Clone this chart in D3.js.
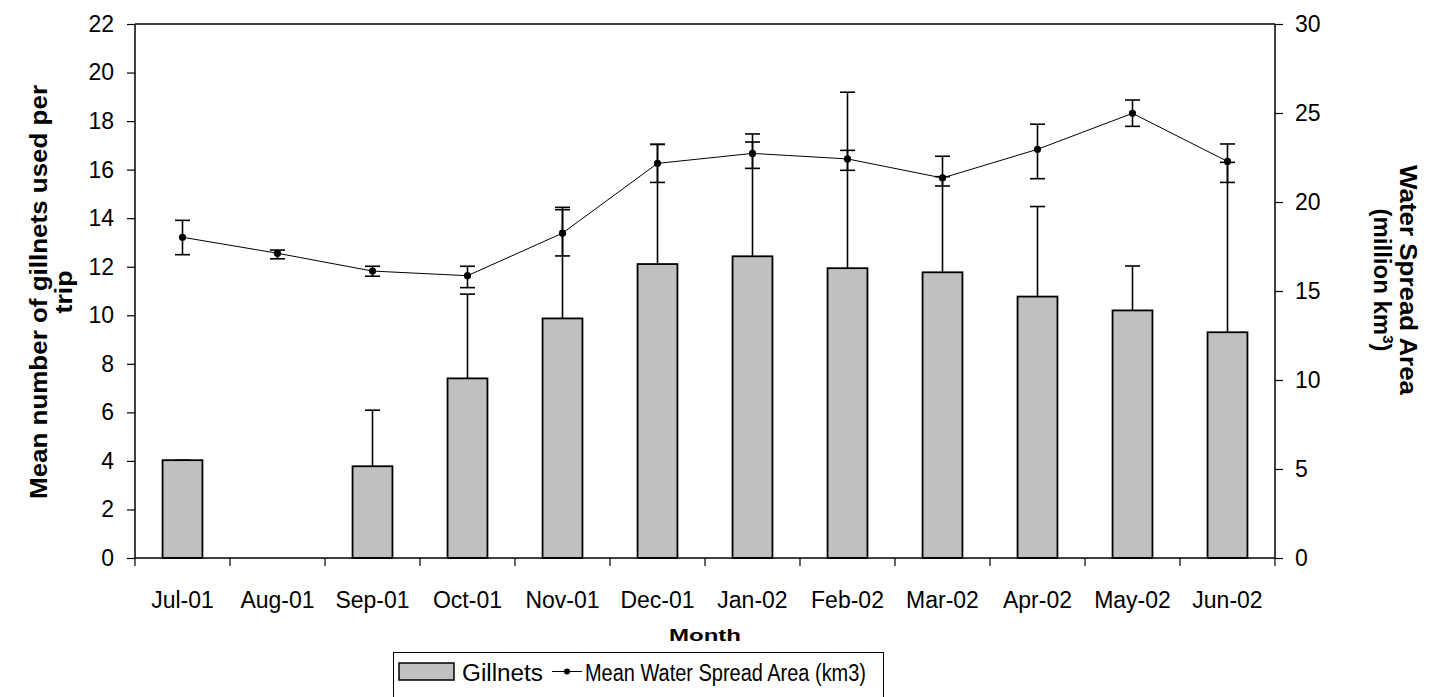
<!DOCTYPE html>
<html>
<head>
<meta charset="utf-8">
<script src="https://cdn.jsdelivr.net/npm/d3@7"></script>
<style>
  body { margin: 0; background: #fff; }
  svg { display: block; font-family: Arial, "Liberation Sans", sans-serif; }
</style>
</head>
<body>
<svg id="chart" width="1435" height="697"></svg>
<script>
// months on the x axis
const months = ['Jul-01', 'Aug-01', 'Sep-01', 'Oct-01', 'Nov-01', 'Dec-01',
                'Jan-02', 'Feb-02', 'Mar-02', 'Apr-02', 'May-02', 'Jun-02'];

// gillnets per trip (bars) and the plus error
const gillnets    = [4.03, null, 3.78, 7.40, 9.87, 12.11, 12.43, 11.94, 11.77, 10.77, 10.20, 9.30];
const gillnetsErr = [0.00, null, 2.31, 3.47, 4.48, 4.93, 5.04, 7.25, 3.94, 3.71, 1.83, 7.00];

// mean water spread area (line) with its error ends
const water     = [18.02, 17.12, 16.12, 15.86, 18.25, 22.17, 22.73, 22.42, 21.35, 22.96, 24.98, 22.28];
const waterHigh = [18.97, 17.30, 16.39, 16.39, 19.70, 23.24, 23.37, 22.90, 22.57, 24.37, 25.73, 23.26];
const waterLow  = [17.04, 16.81, 15.83, 15.19, 16.97, 21.10, 21.89, 21.78, 20.90, 21.31, 24.25, 21.10];

const leftTicks = d3.range(0, 23, 2);
const rightTicks = d3.range(0, 31, 5);

const GRAY = '#c0c0c0';

function drawChart() {
    const svg = d3.select('#chart');
    const margin = {left: 135, right: 160, top: 24, bottom: 139};
    const W = 1435, H = 697;
    const x0 = margin.left, x1 = W - margin.right;
    const y0 = H - margin.bottom, y1 = margin.top;

    const x = d3.scaleBand().domain(months).range([x0, x1]).padding(0);
    const yL = d3.scaleLinear().domain([0, 22]).range([y0, y1]);
    const yR = d3.scaleLinear().domain([0, 30]).range([y0, y1]);
    const barW = x.bandwidth() * 0.42;
    const cx = m => x(m) + x.bandwidth() / 2;
    const capW = 7.5;

    // top border of the plot area
    svg.append('line')
        .attr('x1', x0).attr('x2', x1).attr('y1', y1).attr('y2', y1)
        .attr('stroke', '#000').attr('stroke-width', 1.5);

    // bars
    const rows = months.map((m, i) => ({m, v: gillnets[i], e: gillnetsErr[i]}))
        .filter(d => d.v != null);

    svg.append('g').selectAll('rect')
        .data(rows)
        .join('rect')
        .attr('x', d => cx(d.m) - barW / 2)
        .attr('y', d => yL(d.v))
        .attr('width', barW)
        .attr('height', d => yL(0) - yL(d.v))
        .attr('fill', GRAY)
        .attr('stroke', '#000')
        .attr('stroke-width', 1.8);

    // bar error bars (plus only)
    const be = svg.append('g').attr('stroke', '#000').attr('stroke-width', 1.6);
    rows.forEach(d => {
        const top = yL(d.v + d.e);
        be.append('line').attr('x1', cx(d.m)).attr('x2', cx(d.m))
            .attr('y1', yL(d.v)).attr('y2', top);
        be.append('line').attr('x1', cx(d.m) - capW).attr('x2', cx(d.m) + capW)
            .attr('y1', top).attr('y2', top);
    });

    // water spread line
    const pts = months.map((m, i) => ({m, v: water[i], hi: waterHigh[i], lo: waterLow[i]}));
    svg.append('path')
        .datum(pts)
        .attr('fill', 'none')
        .attr('stroke', '#000')
        .attr('stroke-width', 1)
        .attr('d', d3.line().x(d => cx(d.m)).y(d => yR(d.v)));

    const le = svg.append('g').attr('stroke', '#000').attr('stroke-width', 1.6);
    pts.forEach(d => {
        le.append('line').attr('x1', cx(d.m)).attr('x2', cx(d.m))
            .attr('y1', yR(d.hi)).attr('y2', yR(d.lo));
        [d.hi, d.lo].forEach(v => {
            le.append('line').attr('x1', cx(d.m) - capW).attr('x2', cx(d.m) + capW)
                .attr('y1', yR(v)).attr('y2', yR(v));
        });
    });

    svg.append('g').selectAll('circle')
        .data(pts)
        .join('circle')
        .attr('cx', d => cx(d.m))
        .attr('cy', d => yR(d.v))
        .attr('r', 3.6)
        .attr('fill', '#000');

    // left axis
    const axL = svg.append('g')
        .attr('transform', `translate(${x0},0)`)
        .call(d3.axisLeft(yL).tickValues(leftTicks).tickSize(8).tickPadding(13));
    // right axis
    const axR = svg.append('g')
        .attr('transform', `translate(${x1},0)`)
        .call(d3.axisRight(yR).tickValues(rightTicks).tickSize(8).tickPadding(12));
    [axL, axR].forEach(a => {
        a.select('.domain').attr('stroke-width', 1.5).attr('d',
            `M0,${y0}V${y1}`);
        a.selectAll('.tick line').attr('stroke-width', 1.2);
        a.selectAll('text').attr('font-size', 23).attr('font-family', 'Arial, "Liberation Sans", sans-serif').attr('fill', '#000');
    });

    // bottom axis: ticks on the band edges, labels in the middle
    const edges = months.map(m => x(m)).concat([x1]);
    const ax = svg.append('g');
    ax.append('line').attr('x1', x0).attr('x2', x1).attr('y1', y0).attr('y2', y0)
        .attr('stroke', '#000').attr('stroke-width', 1.5);
    ax.selectAll('line.tk')
        .data(edges)
        .join('line')
        .attr('class', 'tk')
        .attr('x1', d => d).attr('x2', d => d)
        .attr('y1', y0).attr('y2', y0 + 8)
        .attr('stroke', '#000').attr('stroke-width', 1.2);
    ax.selectAll('text')
        .data(months)
        .join('text')
        .attr('x', d => cx(d))
        .attr('y', y0 + 50)
        .attr('text-anchor', 'middle')
        .attr('font-size', 23)
        .text(d => d);

    // axis titles
    const lt = svg.append('text')
        .attr('transform', `translate(47,292) rotate(-90)`)
        .attr('text-anchor', 'middle')
        .attr('font-size', 24).attr('font-weight', 'bold');
    lt.append('tspan').attr('x', 0).attr('dy', 0)
        .attr('textLength', 414).attr('lengthAdjust', 'spacingAndGlyphs')
        .text('Mean number of gillnets used per');
    lt.append('tspan').attr('x', 0).attr('dy', 25)
        .attr('textLength', 43).attr('lengthAdjust', 'spacingAndGlyphs')
        .text('trip');

    const rt = svg.append('text')
        .attr('transform', `translate(1400,280) rotate(90)`)
        .attr('text-anchor', 'middle')
        .attr('font-size', 24).attr('font-weight', 'bold');
    rt.append('tspan').attr('x', 0).attr('dy', 0)
        .attr('textLength', 230).attr('lengthAdjust', 'spacingAndGlyphs')
        .text('Water Spread Area');
    rt.append('tspan').attr('x', 0).attr('dy', 26).text('(million km');
    rt.append('tspan').attr('dy', -9).attr('font-size', 15).text('3');
    rt.append('tspan').attr('dy', 9).text(')');

    svg.append('text')
        .attr('x', (x0 + x1) / 2).attr('y', 641)
        .attr('text-anchor', 'middle')
        .attr('font-size', 17).attr('font-weight', 'bold')
        .attr('textLength', 72).attr('lengthAdjust', 'spacingAndGlyphs')
        .text('Month');

    // legend
    const lg = svg.append('g');
    lg.append('rect').attr('x', 393.5).attr('y', 652.5).attr('width', 490).attr('height', 46)
        .attr('fill', '#fff').attr('stroke', '#000').attr('stroke-width', 1);
    lg.append('rect').attr('x', 399).attr('y', 663).attr('width', 55).attr('height', 17)
        .attr('fill', GRAY).attr('stroke', '#000').attr('stroke-width', 1.5);
    lg.append('text').attr('x', 462).attr('y', 681).attr('font-size', 23)
        .attr('textLength', 81).attr('lengthAdjust', 'spacingAndGlyphs').text('Gillnets');
    lg.append('line').attr('x1', 552).attr('x2', 582).attr('y1', 671.5).attr('y2', 671.5)
        .attr('stroke', '#000').attr('stroke-width', 1);
    lg.append('circle').attr('cx', 567).attr('cy', 671.5).attr('r', 3).attr('fill', '#000');
    lg.append('text').attr('x', 585).attr('y', 681).attr('font-size', 23)
        .attr('textLength', 281).attr('lengthAdjust', 'spacingAndGlyphs')
        .text('Mean Water Spread Area (km3)');
}

drawChart();
</script>
</body>
</html>
